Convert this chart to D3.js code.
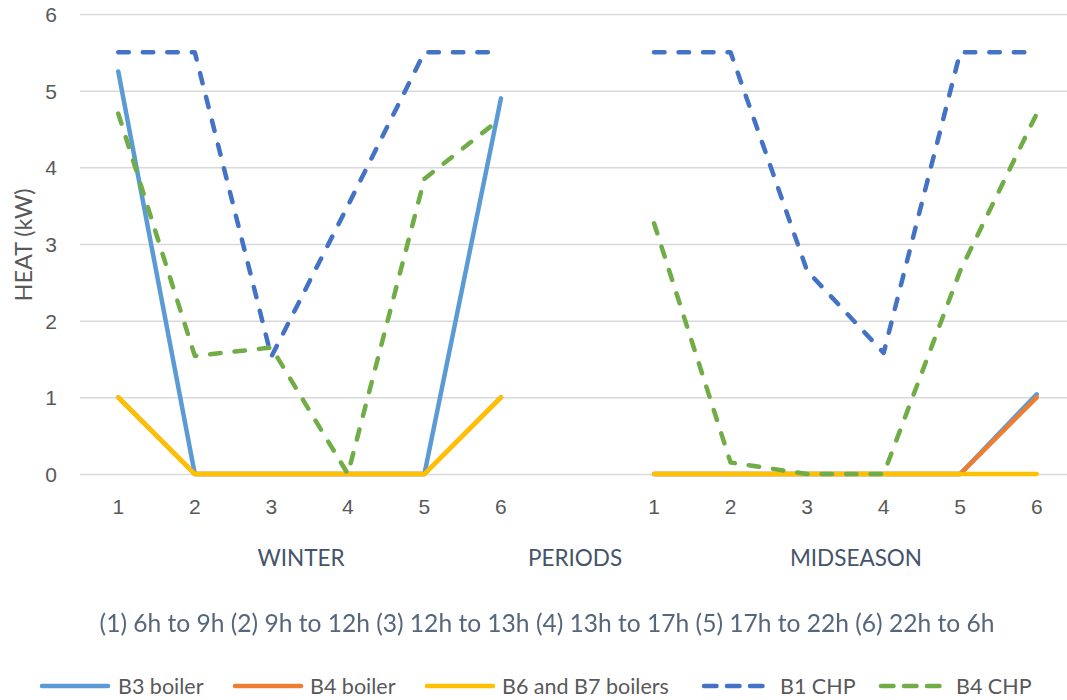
<!DOCTYPE html>
<html>
<head>
<meta charset="utf-8">
<script src="https://cdn.jsdelivr.net/npm/d3@7"></script>
<style>
  html, body { margin: 0; padding: 0; background: #fff; }
  svg { display: block; font-family: Lato, "Open Sans", sans-serif; }
</style>
</head>
<body>
<svg id="chart" width="1067" height="700"></svg>
<script>
// Periods: six per season, with an empty slot separating winter and midseason
const categories = ["1", "2", "3", "4", "5", "6", "", "1", "2", "3", "4", "5", "6"];
const yTicks = [0, 1, 2, 3, 4, 5, 6];

// Heat output per unit (kW); null marks the separator slot
const b3Boiler    = [5.25, 0, 0, 0, 0, 4.9, null, 0, 0, 0, 0, 0, 1.04];
const b4Boiler    = [1, 0, 0, 0, 0, 1, null, 0, 0, 0, 0, 0, 1.0];
const b6b7Boilers = [1, 0, 0, 0, 0, 1, null, 0, 0, 0, 0, 0, 0];
const b1CHP       = [5.5, 5.5, 1.53, 3.5, 5.5, 5.5, null, 5.5, 5.5, 2.65, 1.58, 5.5, 5.5];
const b4CHP       = [4.7, 1.54, 1.65, 0, 3.85, 4.64, null, 3.27, 0.15, 0, 0, 2.65, 4.7];

const seriesNames = ["B3 boiler", "B4 boiler", "B6 and B7 boilers", "B1 CHP", "B4 CHP"];
const seriesValues = [b3Boiler, b4Boiler, b6b7Boilers, b1CHP, b4CHP];
const seriesColors = ["#5B9BD5", "#ED7D31", "#FFC000", "#4472C4", "#70AD47"];
const seriesDashed = [false, false, false, true, true];

const svg = d3.select("#chart");
const plot = { left: 80, right: 1075, top: 14, bottom: 474 };

// Slight softening for the period legend line
svg.append("defs").append("filter").attr("id", "soft")
  .append("feGaussianBlur").attr("stdDeviation", 0.35);

// Scale a text's font size so that it spans the given width
function fitWidth(sel, width) {
  sel.each(function () {
    const fs = parseFloat(this.getAttribute("font-size"));
    const w = this.getComputedTextLength();
    if (w > 0) this.setAttribute("font-size", (fs * width / w).toFixed(2));
  });
}

const x = d3.scaleBand()
  .domain(d3.range(categories.length))
  .range([plot.left, plot.right])
  .paddingInner(0).paddingOuter(0);
const cx = i => x(i) + x.bandwidth() / 2;

const y = d3.scaleLinear().domain([0, 6]).range([plot.bottom, plot.top]);

// Horizontal gridlines and value labels
const yAxis = d3.axisLeft(y).tickValues(yTicks)
  .tickSize(-(plot.right - plot.left)).tickFormat(d3.format("d"));
const gy = svg.append("g").attr("transform", `translate(${plot.left},0)`).call(yAxis);
gy.select(".domain").remove();
gy.selectAll(".tick line").attr("stroke", "#D9D9D9").attr("stroke-width", 1.5);
gy.selectAll(".tick text").attr("fill", "#595959").attr("font-size", 21)
  .attr("text-anchor", "middle").attr("x", -29).attr("dy", "0.36em");

// Period numbers under the plot
const xAxis = d3.axisBottom(x).tickSize(0).tickPadding(25).tickFormat(i => categories[i]);
const gx = svg.append("g").attr("transform", `translate(0,${plot.bottom})`).call(xAxis);
gx.select(".domain").remove();
gx.selectAll(".tick text").attr("fill", "#595959").attr("font-size", 21);

// Series lines, drawn in legend order
const line = d3.line()
  .defined(d => d != null)
  .x((d, i) => cx(i))
  .y(d => y(d));

seriesValues.forEach((vals, k) => {
  svg.append("path")
    .datum(vals)
    .attr("d", line)
    .attr("fill", "none")
    .attr("stroke", seriesColors[k])
    .attr("stroke-width", 4.5)
    .attr("stroke-linecap", "round")
    .attr("stroke-linejoin", "round")
    .attr("stroke-dasharray", seriesDashed[k] ? "10.5,14" : null);
});

// Axis titles
svg.append("text")
  .attr("transform", `translate(32,245) rotate(-90)`)
  .attr("text-anchor", "middle").attr("fill", "#595959").attr("font-size", 24)
  .text("HEAT (kW)")
  .call(fitWidth, 113);

const seasonTitles = [
  { label: "WINTER", at: 301 },
  { label: "PERIODS", at: 575 },
  { label: "MIDSEASON", at: 856 }
];
const titleSize = 22.5;
svg.append("g").selectAll("text").data(seasonTitles).join("text")
  .attr("x", d => d.at).attr("y", 566)
  .attr("text-anchor", "middle").attr("fill", "#44546A").attr("font-size", titleSize)
  .text(d => d.label);

svg.append("text")
  .attr("x", 547).attr("y", 632)
  .attr("text-anchor", "middle").attr("fill", "#56667C").attr("font-size", 22)
  .attr("filter", "url(#soft)")
  .text("(1) 6h to 9h (2) 9h to 12h (3) 12h to 13h (4) 13h to 17h (5) 17h to 22h (6) 22h to 6h")
  .call(fitWidth, 895);

// Legend
const legendX = [40, 233, 425, 702, 879];
const legendTextX = [78, 77, 77, 78, 77];
const legend = svg.append("g").selectAll("g").data(seriesNames).join("g")
  .attr("transform", (d, i) => `translate(${legendX[i]},686)`);
legend.append("line")
  .attr("x1", 2).attr("x2", 68).attr("y1", 0).attr("y2", 0)
  .attr("stroke", (d, i) => seriesColors[i])
  .attr("stroke-width", 4.5)
  .attr("stroke-linecap", "round")
  .attr("stroke-dasharray", (d, i) => seriesDashed[i] ? "12.5,10.5" : null);
legend.append("text")
  .attr("x", (d, i) => legendTextX[i])
  .attr("y", 0).attr("dy", "0.35em")
  .attr("fill", "#595959").attr("font-size", 21.5)
  .text(d => d);
</script>
</body>
</html>
